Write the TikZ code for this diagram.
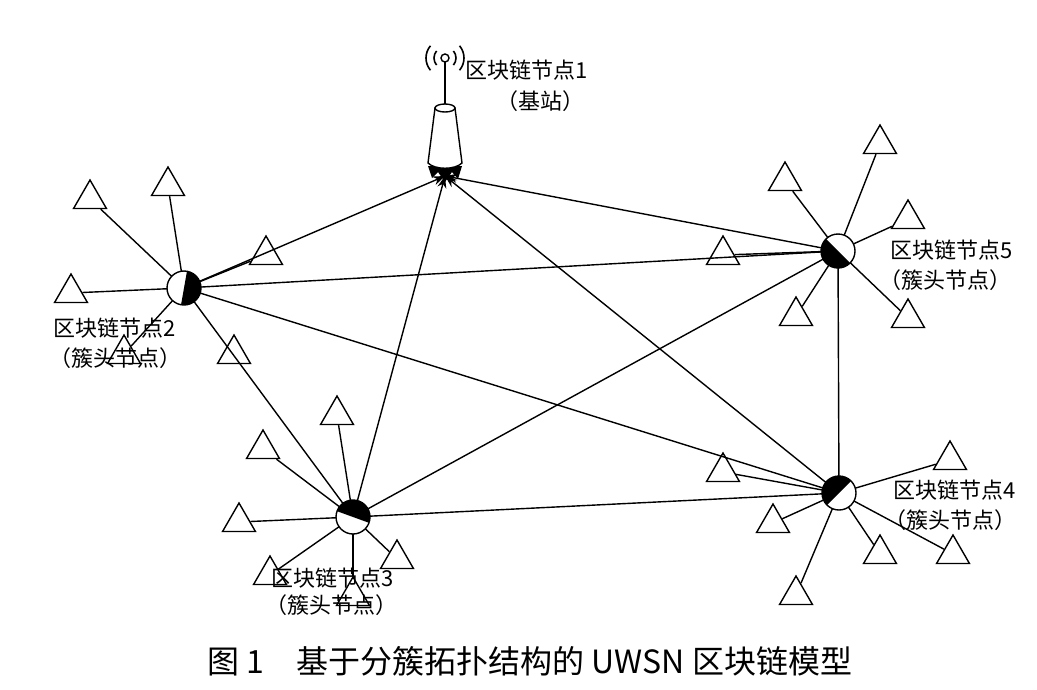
\documentclass[tikz,border=0pt]{standalone}
\usepackage{fontspec}
\newfontfamily\cjk{Noto Sans CJK SC}
\usetikzlibrary{shapes.geometric,arrows.meta}
\begin{document}
\begin{tikzpicture}[x=1pt,y=-1pt,line width=1.4pt,
  tri/.style={regular polygon,regular polygon sides=3,minimum size=38pt,inner sep=0pt,draw,fill=white},
  hub/.style={circle,minimum size=34pt,inner sep=0pt},
  lab/.style={font=\cjk\fontsize{22}{24}\selectfont,inner sep=0pt},
  link/.style={line width=1.4pt},
  up/.style={link,-{Stealth[length=12pt,width=9pt]}}]
\useasboundingbox (0,0) rectangle (1037,689);
\node[hub] (h2) at (184,288) {};
\node[hub] (h5) at (838,251) {};
\node[hub] (h4) at (839,493) {};
\node[hub] (h3) at (353,517) {};
\coordinate (bs) at (445,176);
\foreach \n/\x/\y in {a1/90/199,a2/168/186,a3/266/255,a4/71/293,a5/124/354,a6/234/354,
  b1/880/144,b2/785/181,b3/908/219,b4/723/255,b5/796/316,b6/908/318,
  c1/950/460,c2/773/523,c3/880/554,c4/953/554,c5/796/595,c6/723/472,
  d1/337/415,d2/263/449,d3/239/522,d4/397/559,d5/270/575,d6/353/596}
  \node[tri] (\n) at (\x,\y) {};
\foreach \t in {a1,a2,a3,a4,a5} \draw[link] (h2.center) -- (\t);
\foreach \t in {b1,b2,b3,b4,b5,b6} \draw[link] (h5.center) -- (\t);
\foreach \t in {c1,c2,c3,c4,c5,c6} \draw[link] (h4.center) -- (\t);
\foreach \t in {d1,d2,d3,d4,d5,d6} \draw[link] (h3.center) -- (\t);
\draw[link] (h2.center) -- (h5.center);
\draw[link] (h2.center) -- (h4.center);
\draw[link] (h2.center) -- (h3.center);
\draw[link] (h3.center) -- (h5.center);
\draw[link] (h3.center) -- (h4.center);
\draw[link] (h5.center) -- (h4.center);
\draw[up] (h2.center) -- (bs);
\draw[up] (h3.center) -- (bs);
\draw[up] (h4.center) -- (bs);
\draw[up] (h5.center) -- (bs);
\foreach \h/\a in {h2/-80,h5/45,h4/135,h3/200}{
  \fill[white] (\h.center) circle (17);
  \fill[black] (\h.center) -- ++(\a:17) arc[start angle=\a,delta angle=180,radius=17] -- cycle;
  \draw (\h.center) circle (17);
}
% base station
\fill[black] (428,166) -- (432,178) -- (438,172) -- (445,182) -- (452,172) -- (458,179) -- (462,166) -- cycle;
\draw[fill=white] (435,108) -- (428,163) .. controls (435,170) and (455,170) .. (462,163) -- (455,108) -- cycle;
\draw[fill=white] (445,108) ellipse (10 and 4);
\draw (445,104) -- (445,62);
\node[circle,draw,minimum size=8pt,inner sep=0pt] (ant) at (445,58) {};
\draw[line width=1.6pt] ([shift={(140:11)}]ant.center) arc[start angle=140,end angle=220,radius=11];
\draw[line width=1.6pt] ([shift={(140:19)}]ant.center) arc[start angle=140,end angle=220,radius=19];
\draw[line width=1.6pt] ([shift={(-40:11)}]ant.center) arc[start angle=-40,end angle=40,radius=11];
\draw[line width=1.6pt] ([shift={(-40:19)}]ant.center) arc[start angle=-40,end angle=40,radius=19];
\node[lab] (l1) at (527,70) {区块链节点1};
\node[lab] (l1b) at (540,101) {（基站）};
\node[lab] (l2) at (115,328) {区块链节点2};
\node[lab] (l2b) at (115,358) {（簇头节点）};
\node[lab] (l5) at (952,250) {区块链节点5};
\node[lab] (l5b) at (945,280) {（簇头节点）};
\node[lab] (l4) at (955,490) {区块链节点4};
\node[lab] (l4b) at (950,520) {（簇头节点）};
\node[lab] (l3) at (333,578) {区块链节点3};
\node[lab] (l3b) at (331,605) {（簇头节点）};
\node[font=\cjk\fontsize{32}{34}\selectfont,inner sep=0pt] (cap) at (530,661) {图 1\quad 基于分簇拓扑结构的 UWSN 区块链模型};
\end{tikzpicture}
\end{document}
